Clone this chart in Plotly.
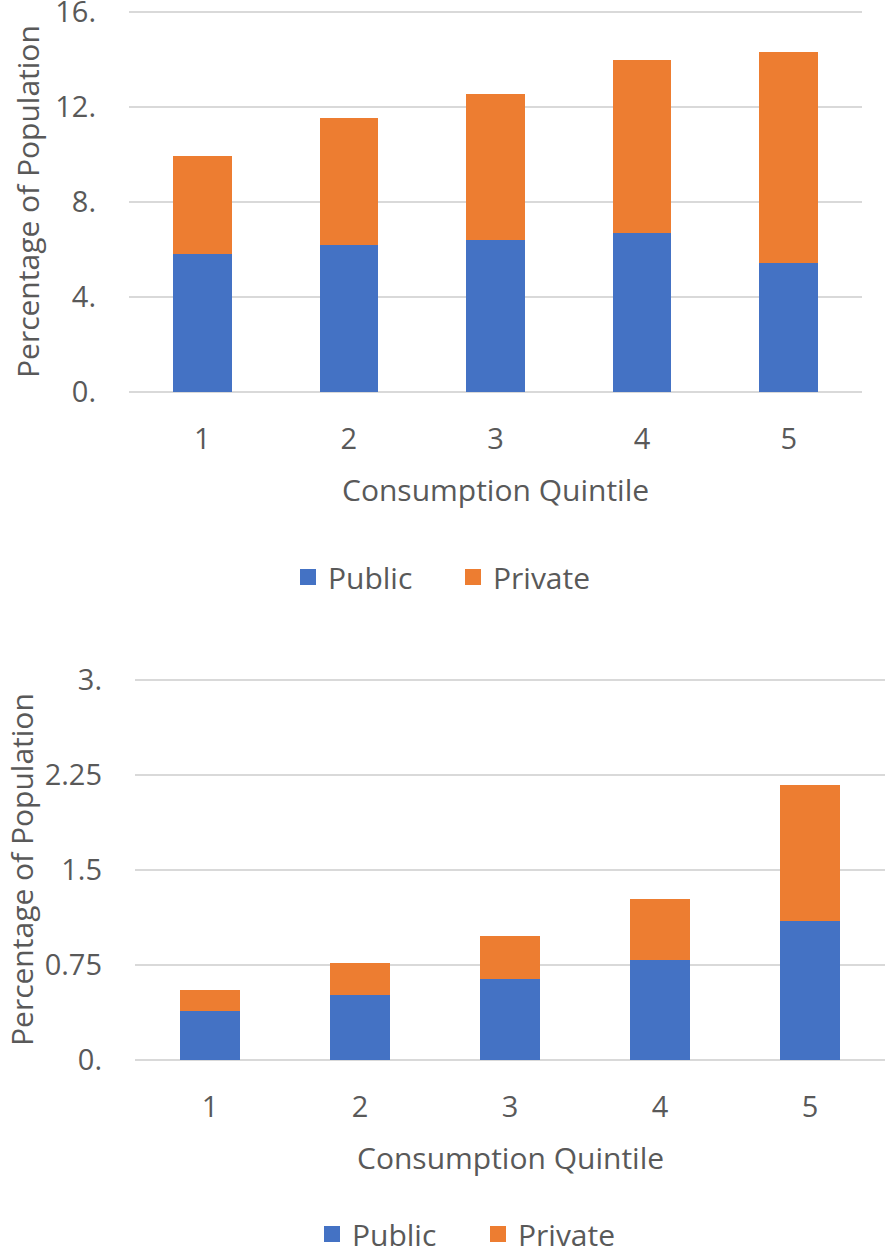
import plotly.graph_objects as go

quintiles = ["1", "2", "3", "4", "5"]

top_public = [5.80, 6.19, 6.41, 6.68, 5.45]
top_total = [9.94, 11.52, 12.53, 13.96, 14.30]
top_private = [round(t - p, 2) for t, p in zip(top_total, top_public)]
top_ticks = [0, 4, 8, 12, 16]
top_ticktext = ["0.", "4.", "8.", "12.", "16."]

bot_public = [0.387, 0.517, 0.637, 0.787, 1.095]
bot_total = [0.556, 0.769, 0.980, 1.269, 2.170]
bot_private = [round(t - p, 3) for t, p in zip(bot_total, bot_public)]
bot_ticks = [0, 0.75, 1.5, 2.25, 3]
bot_ticktext = ["0.", "0.75", "1.5", "2.25", "3."]

series_names = ["Public", "Private"]
x_title = "Consumption Quintile"
y_title = "Percentage of Population"

BLUE = "#4472C4"
ORANGE = "#ED7D31"
TXT = "#595959"
GRID = "#D9D9D9"
FONT = "Open Sans"

W, H = 886, 1256

def py(px):
    return 1 - px / H

fig = go.Figure()

# bars
for xa, ya, pub, pri in [("x", "y", top_public, top_private),
                         ("x2", "y2", bot_public, bot_private)]:
    fig.add_trace(go.Bar(x=quintiles, y=pub, name=series_names[0], marker_color=BLUE,
                         marker_line_width=0, xaxis=xa, yaxis=ya, showlegend=False))
    fig.add_trace(go.Bar(x=quintiles, y=pri, name=series_names[1], marker_color=ORANGE,
                         marker_line_width=0, xaxis=xa, yaxis=ya, showlegend=False))

# legend entries (larger square symbols)
for xa, ya, lg in [("x", "y", "legend"), ("x2", "y2", "legend2")]:
    for nm, col in zip(series_names, [BLUE, ORANGE]):
        fig.add_trace(go.Scatter(x=[None], y=[None], mode="markers", name=nm,
                                 marker=dict(symbol="square", size=16, color=col),
                                 xaxis=xa, yaxis=ya, legend=lg, showlegend=True,
                                 hoverinfo="skip"))

tick_font = dict(family=FONT, size=29, color=TXT)
title_font = dict(family=FONT, size=30, color=TXT)
leg_font = dict(family=FONT, size=30, color=TXT)

TOP_RANGE = [0, 16.1]
BOT_RANGE = [0, 3.02]

common_x = dict(showgrid=False, showline=False, zeroline=False, ticks="",
                tickfont=tick_font, ticklabelstandoff=27, automargin=False,
                ticklabeloverflow="allow")
common_y = dict(showgrid=True, gridcolor=GRID, gridwidth=2, zeroline=True,
                zerolinecolor=GRID, zerolinewidth=2, showline=False, ticks="",
                tickfont=tick_font, ticklabelstandoff=32, automargin=False,
                ticklabeloverflow="allow")

fig.update_layout(
    width=W, height=H,
    margin=dict(l=0, r=0, t=0, b=0, autoexpand=False),
    paper_bgcolor="white", plot_bgcolor="white",
    barmode="stack", bargap=0.6,
    font=dict(family=FONT, color=TXT),
    xaxis=dict(domain=[129 / W, 862 / W], anchor="y", **common_x),
    yaxis=dict(domain=[py(392), py(392 - 16.1 * 23.75)], anchor="x", range=TOP_RANGE,
               tickvals=top_ticks, ticktext=top_ticktext, **common_y),
    xaxis2=dict(domain=[135 / W, 885 / W], anchor="y2", **common_x),
    yaxis2=dict(domain=[py(1060), py(1060 - 3.02 * 126.6)], anchor="x2", range=BOT_RANGE,
                tickvals=bot_ticks, ticktext=bot_ticktext, **common_y),
    legend=dict(orientation="h", x=288 / W, xanchor="left", y=py(577), yanchor="middle",
                font=leg_font, traceorder="normal", itemwidth=30,
                entrywidthmode="pixels", entrywidth=120, bgcolor="rgba(0,0,0,0)"),
    legend2=dict(orientation="h", x=312 / W, xanchor="left", y=py(1234), yanchor="middle",
                 font=leg_font, traceorder="normal", itemwidth=30,
                 entrywidthmode="pixels", entrywidth=121, bgcolor="rgba(0,0,0,0)"),
    annotations=[
        dict(text=x_title, x=495 / W, y=py(489), xref="paper", yref="paper",
             xanchor="center", yanchor="middle", showarrow=False, font=title_font),
        dict(text=y_title, x=27 / W, y=py(202), xref="paper", yref="paper",
             xanchor="center", yanchor="middle", textangle=-90, showarrow=False,
             font=title_font),
        dict(text=x_title, x=510 / W, y=py(1157), xref="paper", yref="paper",
             xanchor="center", yanchor="middle", showarrow=False, font=title_font),
        dict(text=y_title, x=21 / W, y=py(870), xref="paper", yref="paper",
             xanchor="center", yanchor="middle", textangle=-90, showarrow=False,
             font=title_font),
    ],
)

fig.write_html("out.html", config={"displayModeBar": False},
               post_script="document.body.style.margin='0px';")
